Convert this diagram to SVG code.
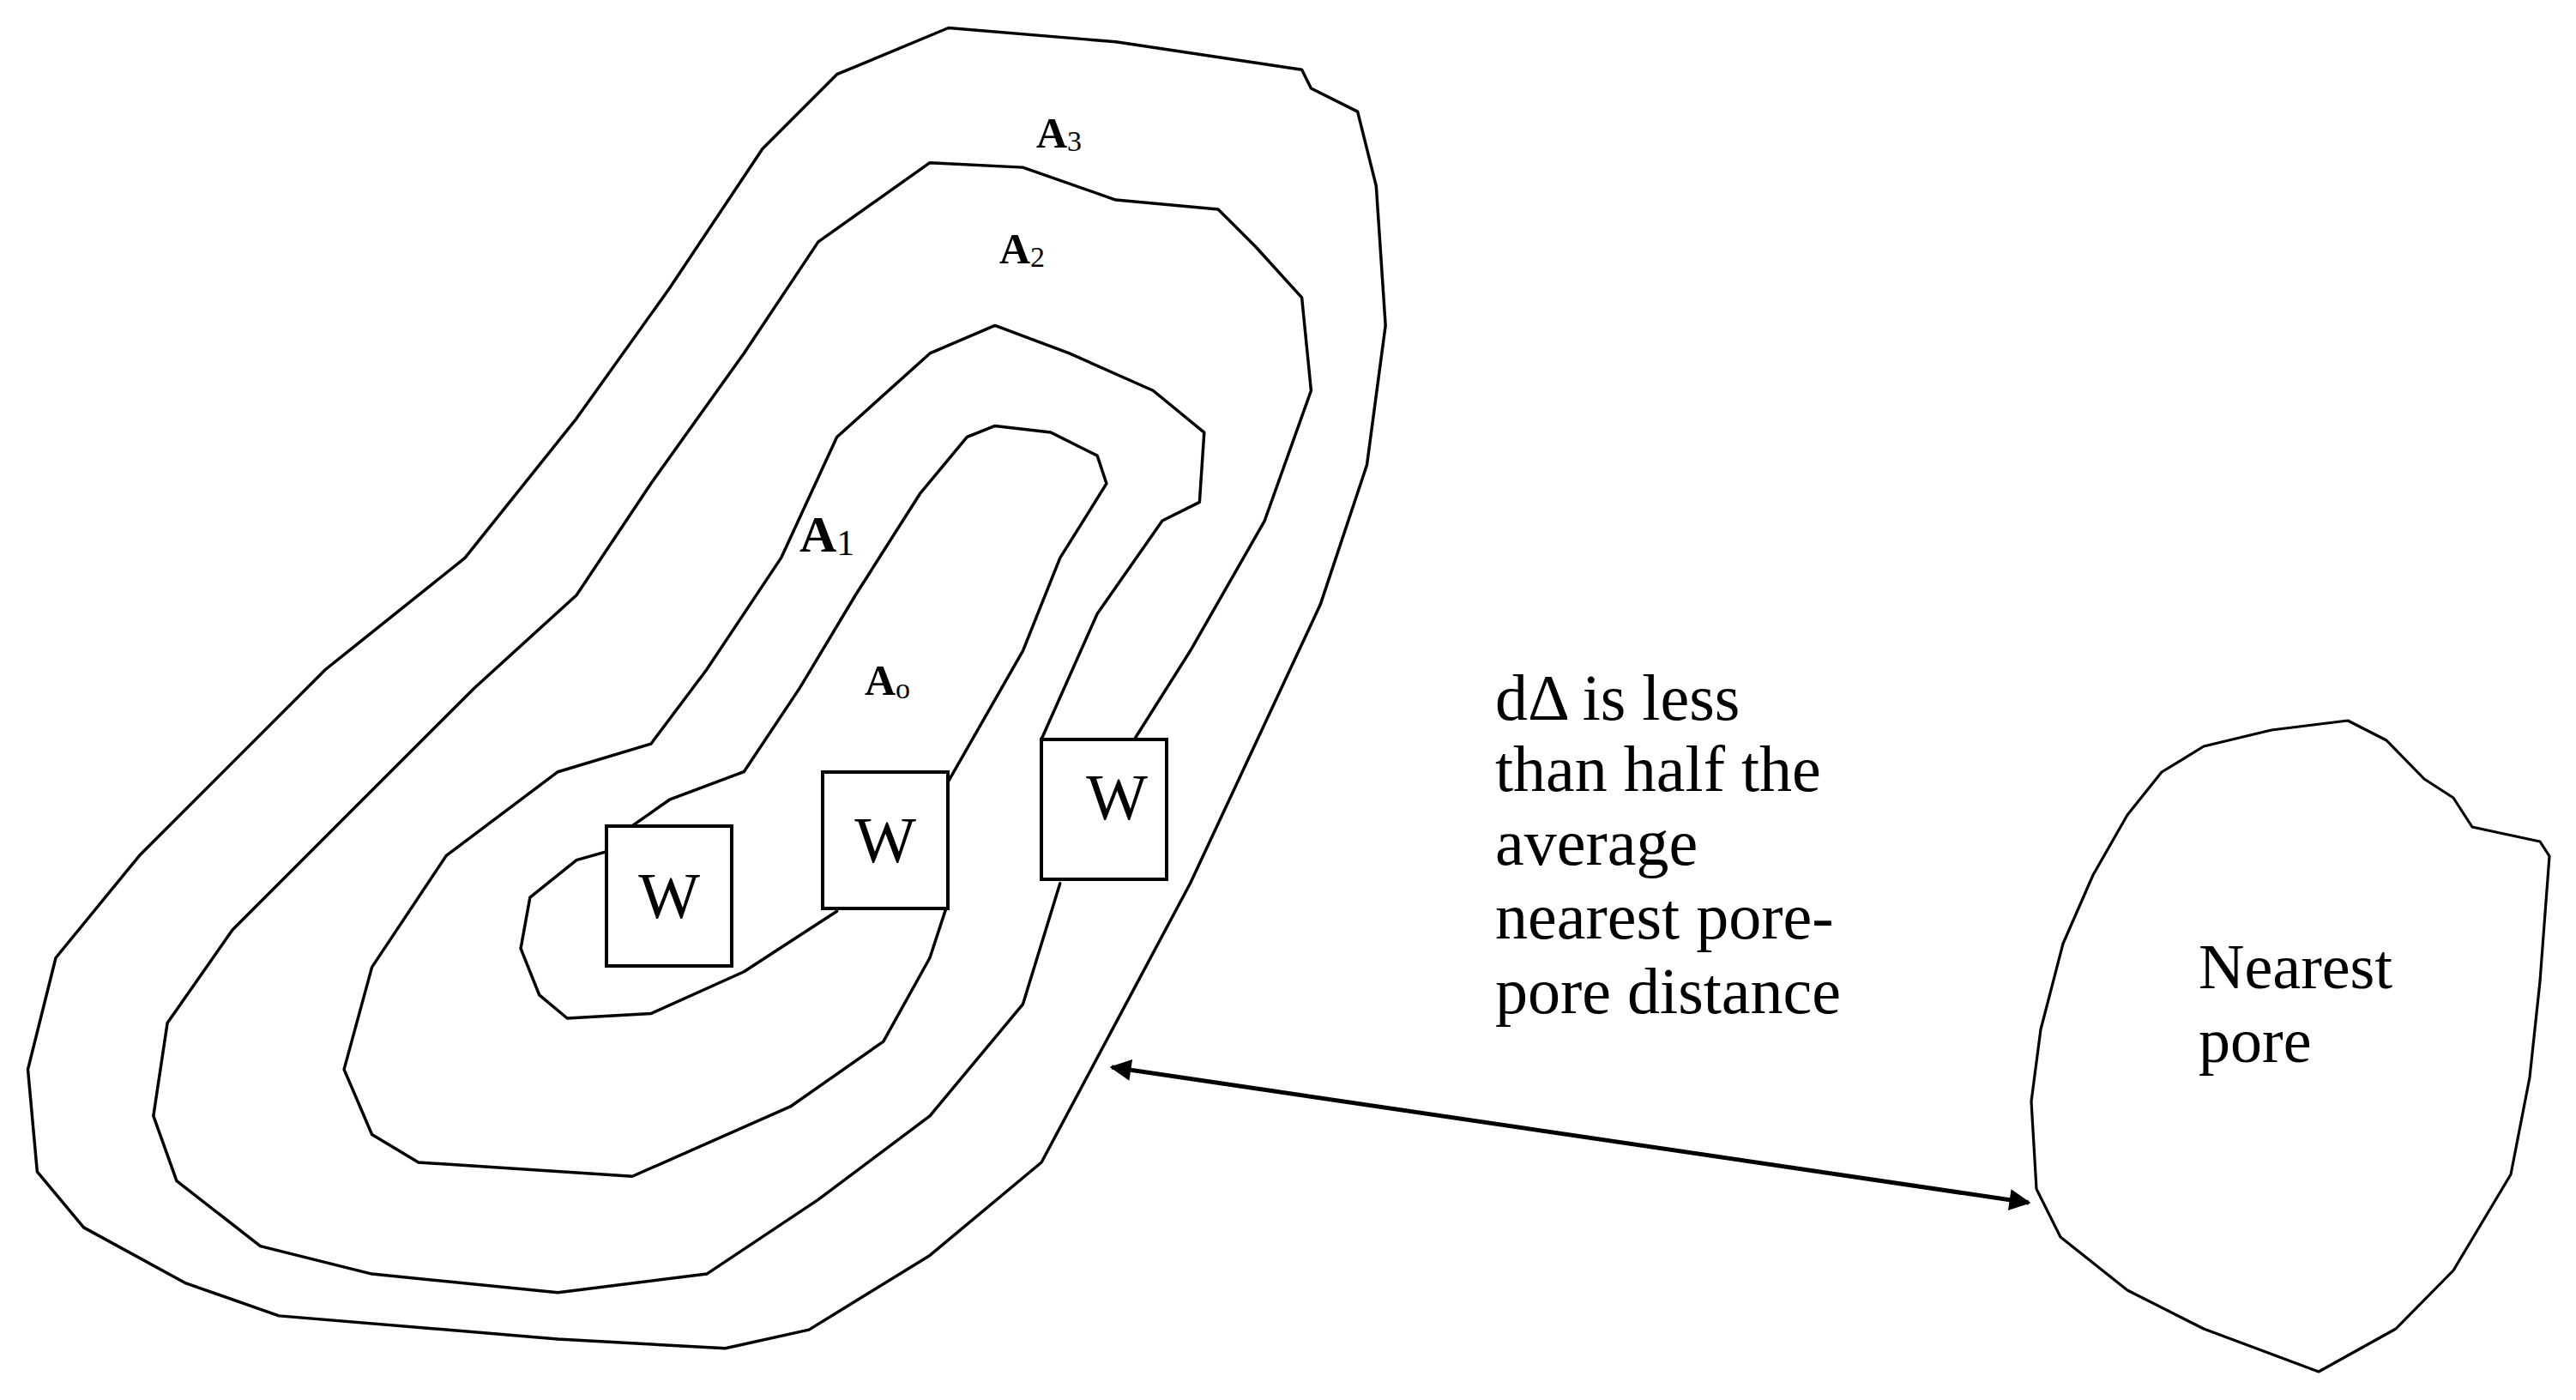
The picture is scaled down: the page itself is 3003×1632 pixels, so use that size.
<svg xmlns="http://www.w3.org/2000/svg" width="3003" height="1632" viewBox="0 0 3003 1632">
<style>
.c{fill:none;stroke:#000;stroke-width:3.2;stroke-linejoin:round;stroke-linecap:round}
.b{fill:#fff;stroke:#000;stroke-width:4}
.t{font-family:"Liberation Serif",serif;fill:#000}
</style>
<defs>
<marker id="ah" viewBox="0 0 10 10" refX="9" refY="5" markerWidth="6" markerHeight="5" orient="auto-start-reverse" markerUnits="strokeWidth"><path d="M0,0L10,5L0,10z" fill="#000"/></marker>
</defs>
<rect width="3003" height="1632" fill="#fff"/>
<g id="grain" transform="scale(1.084)">
<path class="c" d="M1020,30 L1200,45 L1300,60 L1400,75 L1410,95 L1460,120 L1480,200 L1490,350 L1470,500 L1420,650 L1350,800 L1280,950 L1200,1100 L1120,1250 L1000,1350 L870,1430 L780,1450 L600,1440 L300,1415 L200,1380 L90,1320 L40,1260 L30,1150 L60,1030 L150,920 L250,820 L350,720 L500,600 L620,450 L720,310 L820,160 L900,80 Z"/>
<path class="c" d="M1220,795 L1280,700 L1360,560 L1410,420 L1400,320 L1350,265 L1310,225 L1200,215 L1100,180 L1000,175 L880,260 L800,380 L700,520 L620,640 L510,740 L380,870 L250,1000 L180,1100 L165,1200 L190,1270 L280,1340 L400,1370 L600,1390 L760,1370 L880,1290 L1000,1200 L1100,1080 L1140,950"/>
<path class="c" d="M1120,795 L1180,660 L1250,560 L1290,540 L1295,465 L1240,420 L1150,380 L1070,350 L1000,380 L900,470 L840,600 L760,720 L700,800 L600,830 L480,920 L400,1040 L370,1150 L400,1220 L450,1250 L680,1265 L850,1190 L950,1120 L1000,1030 L1018,975"/>
<path class="c" d="M1020,840 L1100,700 L1140,600 L1190,520 L1180,490 L1130,465 L1070,458 L1040,470 L990,530 L920,640 L860,740 L800,830 L720,860 L680,888"/>
<path class="c" d="M655,915 L620,925 L570,965 L560,1020 L580,1070 L610,1095 L700,1090 L800,1045 L900,980"/>
</g>
<g id="box1"><rect class="b" x="707" y="963" width="146" height="163"/><text class="t" x="780" y="1070" font-size="76" text-anchor="middle">W</text></g>
<g id="box2"><rect class="b" x="959" y="900" width="146" height="159"/><text class="t" x="1032" y="1005" font-size="76" text-anchor="middle">W</text></g>
<g id="box3"><rect class="b" x="1214" y="862" width="146" height="163"/><text class="t" x="1302" y="955" font-size="76" text-anchor="middle">W</text></g>
<g id="labels" class="t" font-weight="bold">
<text x="1208" y="172" font-size="50">A<tspan font-size="34" font-weight="normal" dy="4">3</tspan></text>
<text x="1165" y="307" font-size="50">A<tspan font-size="34" font-weight="normal" dy="4">2</tspan></text>
<text x="932" y="643" font-size="60">A<tspan font-size="42" font-weight="normal" dy="4">1</tspan></text>
<text x="1008" y="810" font-size="50">A<tspan font-size="34" font-weight="normal" dy="4">o</tspan></text>
</g>
<g id="pore">
<path class="c" d="M2737,840 L2782,863 L2826,908 L2860,930 L2882,964 L2905,969 L2961,981 L2972,998 L2961,1144 L2949,1256 L2927,1369 L2860,1481 L2793,1549 L2703,1599 L2569,1549 L2480,1504 L2402,1442 L2374,1386 L2368,1284 L2379,1200 L2405,1100 L2440,1020 L2480,950 L2520,900 L2569,870 L2648,851 Z"/>
<text class="t" x="2563" y="1152" font-size="74">Nearest</text>
<text class="t" x="2563" y="1238" font-size="74">pore</text>
</g>
<g id="note" class="t" font-size="76">
<text x="1743" y="839">dΔ is less</text>
<text x="1743" y="922">than half the</text>
<text x="1743" y="1008">average</text>
<text x="1743" y="1094">nearest pore-</text>
<text x="1743" y="1181">pore distance</text>
</g>
<g id="connectors">
<line x1="1296" y1="1244" x2="2365" y2="1402" stroke="#000" stroke-width="5" marker-start="url(#ah)" marker-end="url(#ah)"/>
</g>
</svg>
